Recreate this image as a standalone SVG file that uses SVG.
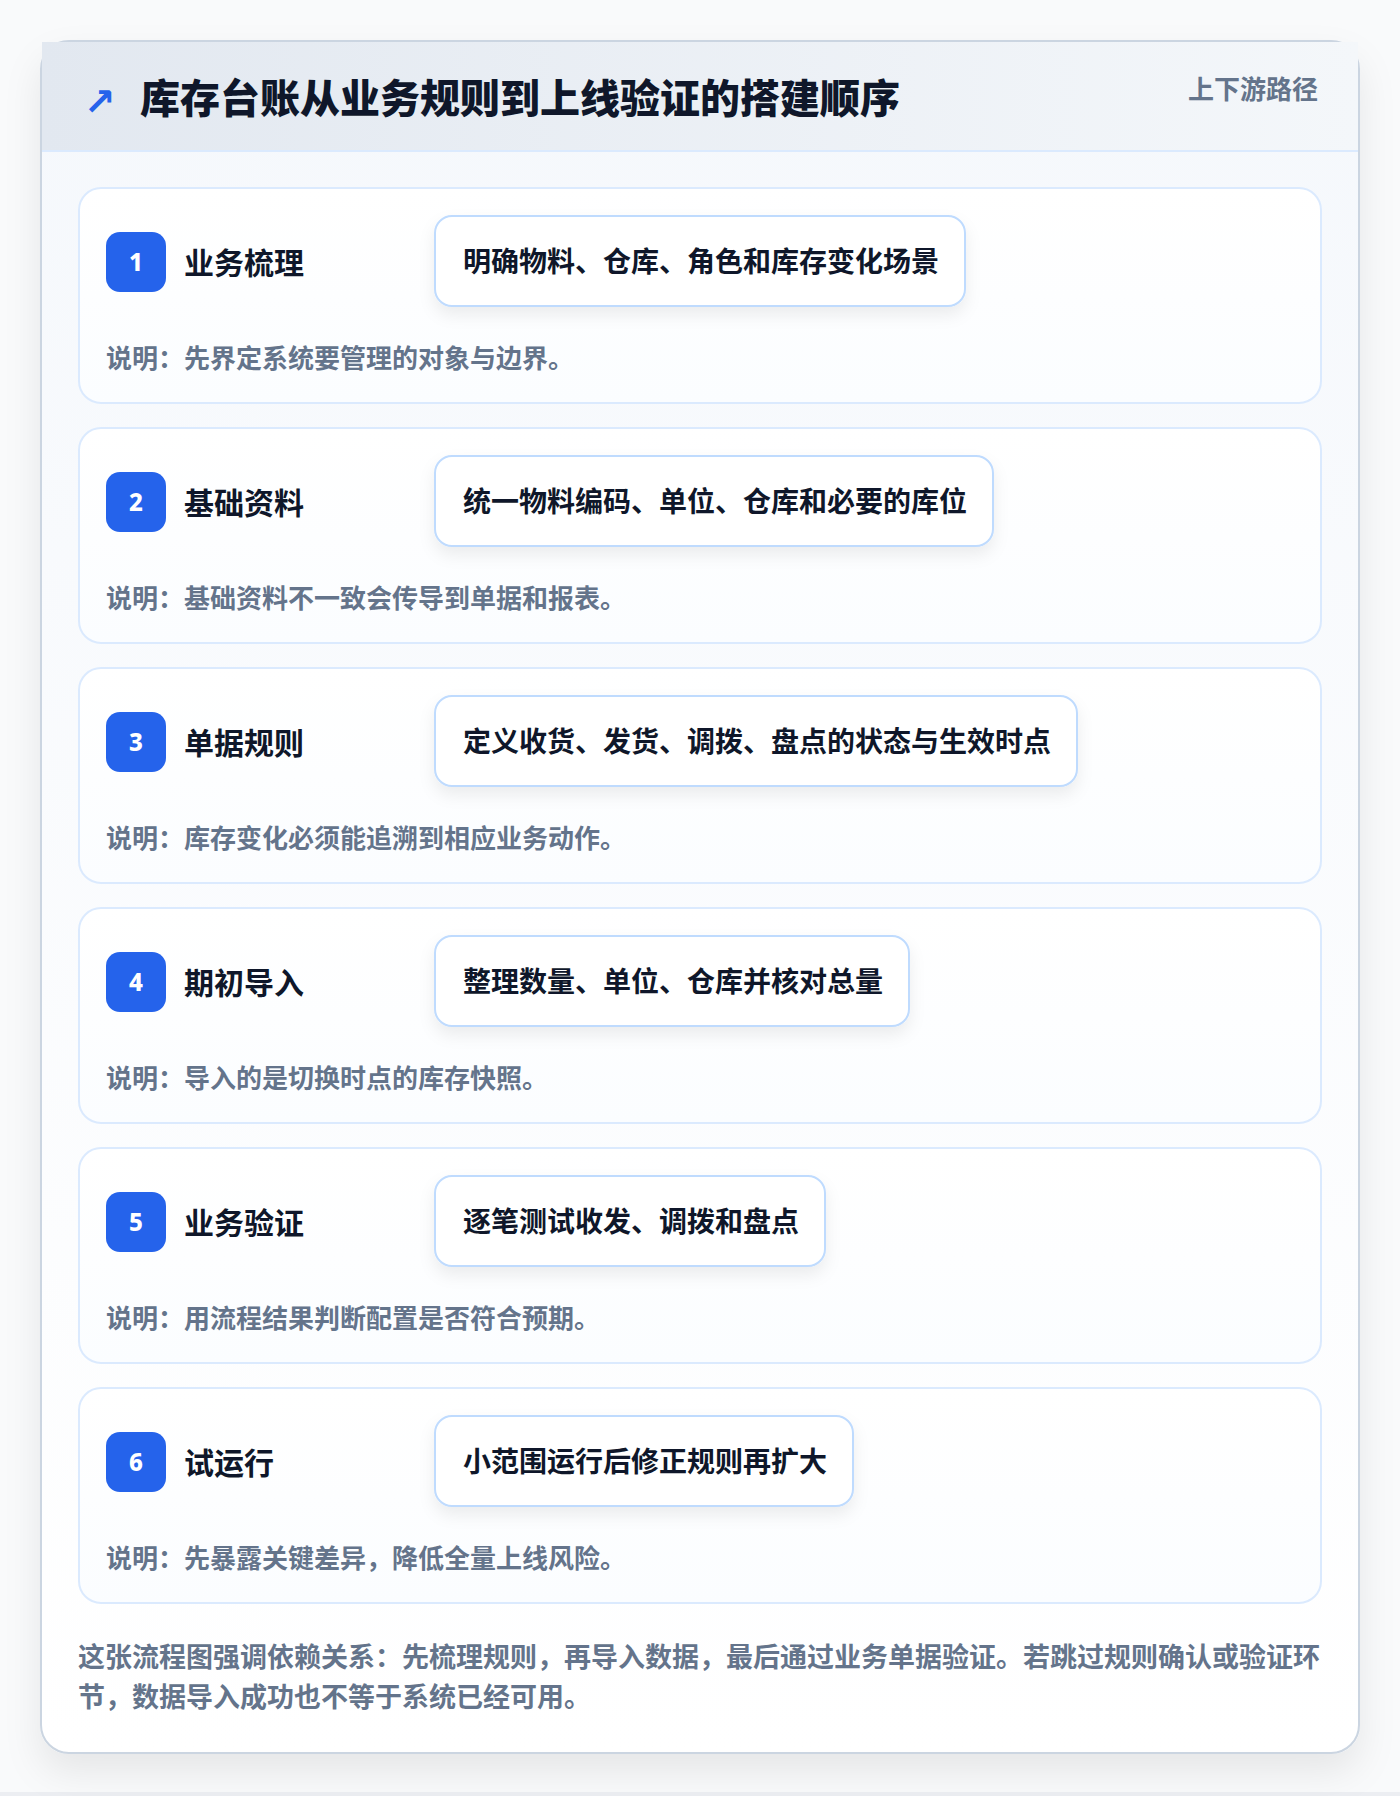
<svg xmlns="http://www.w3.org/2000/svg" width="1400" height="1796" viewBox="0 0 1400 1796">
<defs>
<linearGradient id="hdr" x1="0" y1="0" x2="1" y2="0">
<stop offset="0" stop-color="#e2e8f0"/>
<stop offset="1" stop-color="#f4f7fa"/>
</linearGradient>
<linearGradient id="body" x1="0" y1="0" x2="0" y2="1">
<stop offset="0" stop-color="#f5f8fc"/>
<stop offset="1" stop-color="#ffffff"/>
</linearGradient>
<linearGradient id="cardfill" x1="0" y1="0" x2="0" y2="1">
<stop offset="0" stop-color="#ffffff"/>
<stop offset="1" stop-color="#fbfdff"/>
</linearGradient>
<filter id="outerShadow" x="-10%" y="-10%" width="120%" height="120%">
<feDropShadow dx="0" dy="18" stdDeviation="18" flood-color="#0f172a" flood-opacity="0.08"/>
</filter>
<filter id="boxShadow" x="-10%" y="-30%" width="125%" height="170%">
<feDropShadow dx="0" dy="8" stdDeviation="8" flood-color="#0f172a" flood-opacity="0.07"/>
</filter>
<style>
.cjk{font-family:"Noto Sans CJK SC","Noto Sans",sans-serif}
.title{font-size:40px;font-weight:900;fill:#0f172a}
.tag{font-size:26px;font-weight:700;fill:#64748b}
.card{fill:url(#cardfill);stroke:#dbeafe;stroke-width:2}
.badge{fill:#2563eb}
.num{font-family:"Noto Sans","DejaVu Sans",sans-serif;font-size:24px;font-weight:800;fill:#ffffff}
.stitle{font-size:30px;font-weight:700;fill:#0f172a}
.box{fill:#ffffff;stroke:#bfdbfe;stroke-width:2}
.btext{font-size:28px;font-weight:700;fill:#0f172a}
.desc{font-size:26px;font-weight:700;fill:#64748b}
.foot{font-size:27px;font-weight:700;fill:#64748b}
</style>
</defs>
<rect x="0" y="0" width="1400" height="1796" fill="#f9fafb"/>
<rect x="0" y="1792" width="1400" height="4" fill="#eceef2"/>
<g id="frame">
<rect x="41" y="41" width="1318" height="1712" rx="28" fill="url(#body)" stroke="#cbd5e1" stroke-width="2" filter="url(#outerShadow)"/>
<rect x="42" y="42" width="1316" height="109" fill="url(#hdr)"/>
<line x1="42" y1="151" x2="1358" y2="151" stroke="#dbeafe" stroke-width="2"/>
<text x="84" y="115" font-family="DejaVu Sans, sans-serif" font-size="38" font-weight="700" fill="#2563eb">↗</text>
<text class="cjk title" x="140" y="113">库存台账从业务规则到上线验证的搭建顺序</text>
<text class="cjk tag" x="1318" y="99" text-anchor="end">上下游路径</text>
</g>
<g id="connectors"></g>
<g id="step1" transform="translate(0,188)">
<rect class="card" x="79" y="0" width="1242" height="215" rx="22"/>
<rect class="badge" x="106" y="44" width="60" height="60" rx="14"/>
<text class="num" x="136" y="83" text-anchor="middle">1</text>
<text class="cjk stitle" x="184" y="86">业务梳理</text>
<rect class="box" x="435" y="28" width="530" height="90" rx="17" filter="url(#boxShadow)"/>
<text class="cjk btext" x="463" y="84">明确物料、仓库、角色和库存变化场景</text>
<text class="cjk desc" x="106" y="180">说明：先界定系统要管理的对象与边界。</text>
</g>
<g id="step2" transform="translate(0,428)">
<rect class="card" x="79" y="0" width="1242" height="215" rx="22"/>
<rect class="badge" x="106" y="44" width="60" height="60" rx="14"/>
<text class="num" x="136" y="83" text-anchor="middle">2</text>
<text class="cjk stitle" x="184" y="86">基础资料</text>
<rect class="box" x="435" y="28" width="558" height="90" rx="17" filter="url(#boxShadow)"/>
<text class="cjk btext" x="463" y="84">统一物料编码、单位、仓库和必要的库位</text>
<text class="cjk desc" x="106" y="180">说明：基础资料不一致会传导到单据和报表。</text>
</g>
<g id="step3" transform="translate(0,668)">
<rect class="card" x="79" y="0" width="1242" height="215" rx="22"/>
<rect class="badge" x="106" y="44" width="60" height="60" rx="14"/>
<text class="num" x="136" y="83" text-anchor="middle">3</text>
<text class="cjk stitle" x="184" y="86">单据规则</text>
<rect class="box" x="435" y="28" width="642" height="90" rx="17" filter="url(#boxShadow)"/>
<text class="cjk btext" x="463" y="84">定义收货、发货、调拨、盘点的状态与生效时点</text>
<text class="cjk desc" x="106" y="180">说明：库存变化必须能追溯到相应业务动作。</text>
</g>
<g id="step4" transform="translate(0,908)">
<rect class="card" x="79" y="0" width="1242" height="215" rx="22"/>
<rect class="badge" x="106" y="44" width="60" height="60" rx="14"/>
<text class="num" x="136" y="83" text-anchor="middle">4</text>
<text class="cjk stitle" x="184" y="86">期初导入</text>
<rect class="box" x="435" y="28" width="474" height="90" rx="17" filter="url(#boxShadow)"/>
<text class="cjk btext" x="463" y="84">整理数量、单位、仓库并核对总量</text>
<text class="cjk desc" x="106" y="180">说明：导入的是切换时点的库存快照。</text>
</g>
<g id="step5" transform="translate(0,1148)">
<rect class="card" x="79" y="0" width="1242" height="215" rx="22"/>
<rect class="badge" x="106" y="44" width="60" height="60" rx="14"/>
<text class="num" x="136" y="83" text-anchor="middle">5</text>
<text class="cjk stitle" x="184" y="86">业务验证</text>
<rect class="box" x="435" y="28" width="390" height="90" rx="17" filter="url(#boxShadow)"/>
<text class="cjk btext" x="463" y="84">逐笔测试收发、调拨和盘点</text>
<text class="cjk desc" x="106" y="180">说明：用流程结果判断配置是否符合预期。</text>
</g>
<g id="step6" transform="translate(0,1388)">
<rect class="card" x="79" y="0" width="1242" height="215" rx="22"/>
<rect class="badge" x="106" y="44" width="60" height="60" rx="14"/>
<text class="num" x="136" y="83" text-anchor="middle">6</text>
<text class="cjk stitle" x="184" y="86">试运行</text>
<rect class="box" x="435" y="28" width="418" height="90" rx="17" filter="url(#boxShadow)"/>
<text class="cjk btext" x="463" y="84">小范围运行后修正规则再扩大</text>
<text class="cjk desc" x="106" y="180">说明：先暴露关键差异，降低全量上线风险。</text>
</g>
<g id="footer">
<text class="cjk foot" x="78" y="1667">这张流程图强调依赖关系：先梳理规则，再导入数据，最后通过业务单据验证。若跳过规则确认或验证环</text>
<text class="cjk foot" x="78" y="1707">节，数据导入成功也不等于系统已经可用。</text>
</g>
</svg>
